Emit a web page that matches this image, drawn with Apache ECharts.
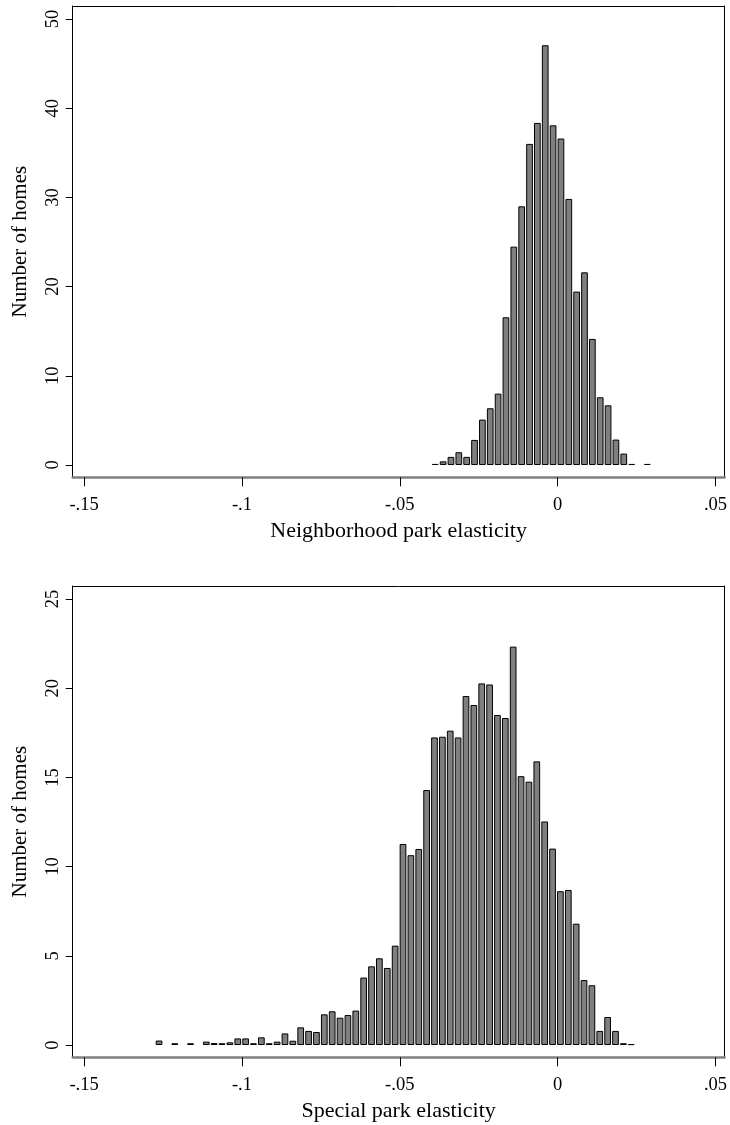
<!DOCTYPE html>
<html>
<head>
<meta charset="utf-8">
<script src="https://cdn.jsdelivr.net/npm/echarts@6/dist/echarts.min.js"></script>
<style>
	html, body { margin: 0; padding: 0; background: #fff; }
	#chart { width: 730px; height: 1125px; }
</style>
</head>
<body>
<div id="chart"></div>
<script>
// bin centres and heights
var nbhdBins = [
	-0.03875, -0.03626, -0.03378, -0.03129, -0.02880, -0.02631, -0.02382,
	-0.02134, -0.01885, -0.01636, -0.01387, -0.01138, -0.00889, -0.00641,
	-0.00392, -0.00143, 0.00106, 0.00355, 0.00603, 0.00852, 0.01101,
	0.01350, 0.01599, 0.01847, 0.02096, 0.02345, 0.02594, 0.02843
];
var nbhdHomes = [
	0.12, 0.41, 0.91, 1.43, 0.91, 2.81, 5.09,
	6.36, 8.0, 16.56, 24.48, 29.0, 36.0, 38.35,
	47.06, 38.08, 36.6, 29.83, 19.44, 21.6, 14.14,
	7.59, 6.69, 2.85, 1.28, 0.12, null, 0.12
];

var specBins = [
	-0.12625, -0.12376, -0.12126, -0.11877, -0.11628, -0.11378, -0.11129, -0.10880,
	-0.10631, -0.10381, -0.10132, -0.09883, -0.09633, -0.09384, -0.09135, -0.08886,
	-0.08636, -0.08387, -0.08138, -0.07888, -0.07639, -0.07390, -0.07140, -0.06891,
	-0.06642, -0.06393, -0.06143, -0.05894, -0.05645, -0.05395, -0.05146, -0.04897,
	-0.04647, -0.04398, -0.04149, -0.03900, -0.03650, -0.03401, -0.03152, -0.02902,
	-0.02653, -0.02404, -0.02154, -0.01905, -0.01656, -0.01407, -0.01157, -0.00908,
	-0.00659, -0.00409, -0.00160, 0.00089, 0.00339, 0.00588, 0.00837, 0.01087,
	0.01336, 0.01585, 0.01834, 0.02084, 0.02333
];
var specHomes = [
	0.25, null, 0.1, null, 0.1, null, 0.19, 0.11,
	0.1, 0.15, 0.37, 0.37, 0.1, 0.43, 0.1, 0.19,
	0.65, 0.24, 0.99, 0.79, 0.73, 1.72, 1.89, 1.53,
	1.68, 1.93, 3.78, 4.41, 4.86, 4.32, 5.57, 11.27,
	10.64, 10.99, 14.29, 17.24, 17.28, 17.62, 17.24, 19.56,
	19.06, 20.27, 20.21, 18.50, 18.33, 22.33, 15.07, 14.76,
	15.90, 12.53, 11.01, 8.62, 8.69, 6.80, 3.64, 3.35,
	0.79, 1.57, 0.79, 0.1, 0.05
];

var xTickValues = [-0.15, -0.1, -0.05, 0, 0.05];
var xTickLabels = ['-.15', '-.1', '-.05', '0', '.05'];
var nbhdYTicks = [0, 10, 20, 30, 40, 50];
var specYTicks = [0, 5, 10, 15, 20, 25];

var FONT = 'Liberation Serif';

function pairs(xs, ys) {
	var out = [];
	xs.forEach(function(x, i) {
		if (ys[i] != null) out.push([x, ys[i]]);
	});
	return out;
}

function xLabel(v) {
	for (var i = 0; i < xTickValues.length; i++) {
		if (Math.abs(xTickValues[i] - v) < 1e-9) return xTickLabels[i];
	}
	return '';
}

function bottomAxis(idx, name) {
	return {
		gridIndex: idx,
		type: 'value',
		position: 'bottom',
		min: -0.1536,
		max: 0.0529,
		name: name,
		nameLocation: 'middle',
		nameGap: 43,
		nameTextStyle: { fontFamily: FONT, fontSize: 22, color: '#000' },
		axisLine: { show: true, onZero: false, lineStyle: { color: '#808080', width: 2.5 } },
		axisTick: { show: true, length: 9, customValues: xTickValues, lineStyle: { color: '#000', width: 1 } },
		axisLabel: { customValues: xTickValues, formatter: xLabel, margin: 18, fontFamily: FONT, fontSize: 18.5, color: '#000' },
		splitLine: { show: false }
	};
}

function topAxis(idx) {
	return {
		gridIndex: idx,
		type: 'value',
		position: 'top',
		min: -0.1536,
		max: 0.0529,
		axisLine: { show: true, onZero: false, lineStyle: { color: '#000', width: 1 } },
		axisTick: { show: false },
		axisLabel: { show: false },
		splitLine: { show: false }
	};
}

function leftAxis(idx, min, max, ticks) {
	return {
		gridIndex: idx,
		type: 'value',
		position: 'left',
		min: min,
		max: max,
		name: 'Number of homes',
		nameLocation: 'middle',
		nameGap: 42,
		nameTextStyle: { fontFamily: FONT, fontSize: 21, color: '#000' },
		axisLine: { show: true, onZero: false, lineStyle: { color: '#000', width: 1 } },
		axisTick: { show: true, length: 7, customValues: ticks, lineStyle: { color: '#000', width: 1 } },
		axisLabel: { customValues: ticks, rotate: 90, margin: 10, fontFamily: FONT, fontSize: 18.5, color: '#000' },
		splitLine: { show: false }
	};
}

function rightAxis(idx, min, max) {
	return {
		gridIndex: idx,
		type: 'value',
		position: 'right',
		min: min,
		max: max,
		axisLine: { show: true, onZero: false, lineStyle: { color: '#000', width: 1 } },
		axisTick: { show: false },
		axisLabel: { show: false },
		splitLine: { show: false }
	};
}

function histSeries(idx, xs, ys) {
	return {
		type: 'bar',
		xAxisIndex: idx * 2,
		yAxisIndex: idx * 2,
		data: pairs(xs, ys),
		barWidth: 6.7,
		itemStyle: { color: '#7f7f7f', borderColor: '#000', borderWidth: 1 }
	};
}

var myChart = echarts.init(document.getElementById('chart'), null, { renderer: 'canvas' });

var option = {
	animation: false,
	backgroundColor: '#fff',
	grid: [
		{ left: 72.7, right: 3.3, top: 6, height: 471.3 },
		{ left: 72.7, right: 3.3, top: 586, height: 471.3 }
	],
	xAxis: [
		bottomAxis(0, 'Neighborhood park elasticity'),
		topAxis(0),
		bottomAxis(1, 'Special park elasticity'),
		topAxis(1)
	],
	yAxis: [
		leftAxis(0, -1.379, 51.46, nbhdYTicks),
		rightAxis(0, -1.379, 51.46),
		leftAxis(1, -0.689, 25.73, specYTicks),
		rightAxis(1, -0.689, 25.73)
	],
	series: [
		histSeries(0, nbhdBins, nbhdHomes),
		histSeries(1, specBins, specHomes)
	]
};

myChart.setOption(option);
</script>
</body>
</html>
